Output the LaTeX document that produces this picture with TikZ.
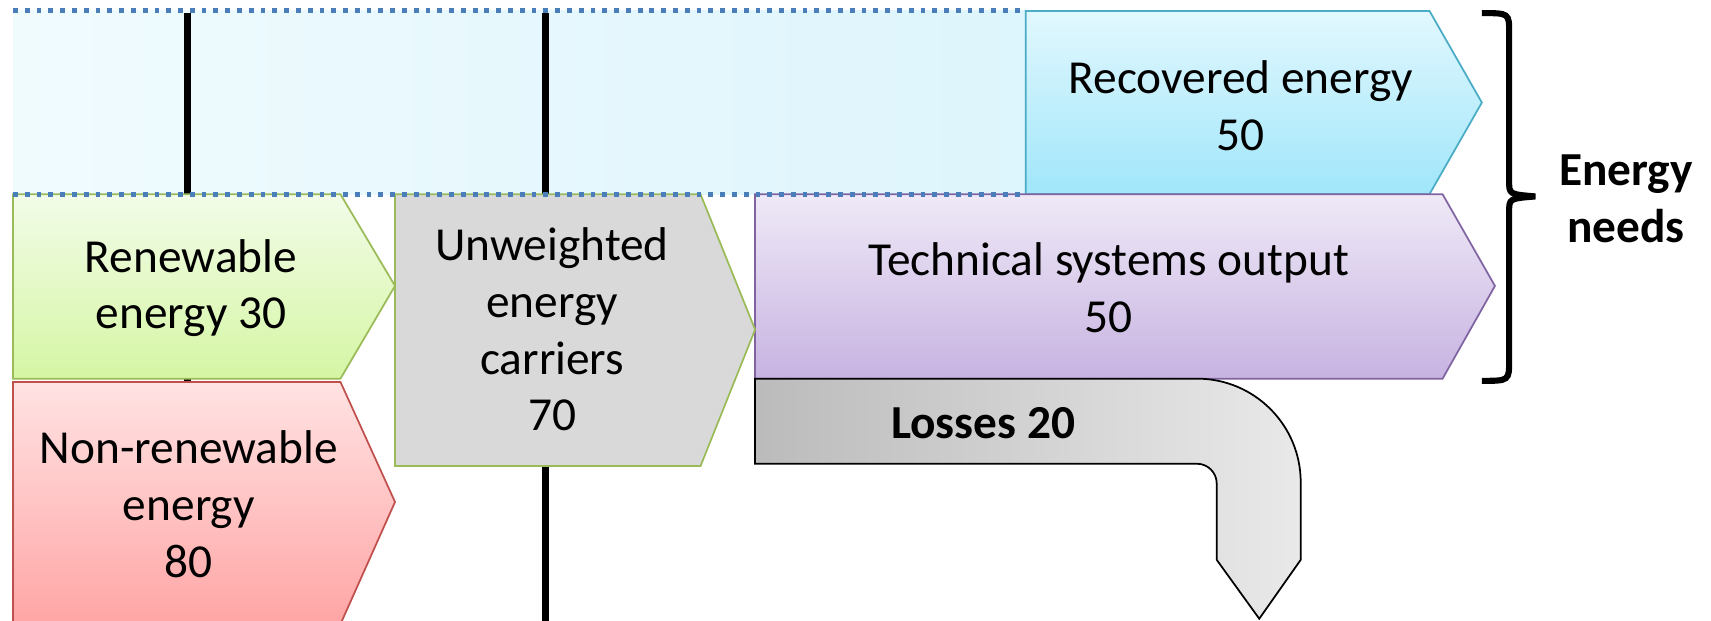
\documentclass[tikz,border=0pt]{standalone}
\usepackage{fontspec}
\setmainfont{Carlito}
\usepackage{tikz}
\usetikzlibrary{positioning,calc}

\definecolor{bgL}{HTML}{F0FBFE}
\definecolor{bgR}{HTML}{DDF5FC}
\definecolor{recT}{HTML}{E2F8FE}
\definecolor{recB}{HTML}{A0E6FA}
\definecolor{recD}{HTML}{4BACC6}
\definecolor{tecT}{HTML}{EFE9F7}
\definecolor{tecB}{HTML}{C7B3E1}
\definecolor{tecD}{HTML}{8064A2}
\definecolor{renT}{HTML}{F2FCE8}
\definecolor{renB}{HTML}{D5F6A4}
\definecolor{renD}{HTML}{9BBB59}
\definecolor{nonT}{HTML}{FFE3E3}
\definecolor{nonB}{HTML}{FFA5A5}
\definecolor{nonD}{HTML}{C0504D}
\definecolor{carF}{HTML}{D9D9D9}
\definecolor{losL}{HTML}{BBBBBB}
\definecolor{losR}{HTML}{E9E9E9}
\definecolor{dotblue}{HTML}{4A7EBB}

\begin{document}
\begin{tikzpicture}[
  x=0.5pt,y=-0.5pt,
  font=\fontsize{21.7}{26}\selectfont,
  lbl/.style={align=center,inner sep=0pt},
  box/.style={line width=0.8pt,line join=miter},
  bar/.style={line width=3pt,black},
  dots/.style={draw=dotblue,line width=2.3pt,dash pattern=on 2.2pt off 3.2pt},
  brace/.style={line width=2.8pt,black}
]
\useasboundingbox (0,0) rectangle (1568,569);

% background band and the two markers
\fill[left color=bgL,right color=bgR] (12,10) rectangle (940,178);
\draw[bar] (172,12) -- (172,575);
\draw[bar] (500,12) -- (500,575);

% energy boxes
\draw[box,draw=recD,top color=recT,bottom color=recB]
  (940,10) -- (1310,10) -- (1358,94) -- (1310,178) -- (940,178) -- cycle;
\draw[box,draw=tecD,top color=tecT,bottom color=tecB]
  (692,178) -- (1322,178) -- (1370,262) -- (1322,347) -- (692,347) -- cycle;
\draw[box,draw=renD,top color=renT,bottom color=renB]
  (12,178) -- (312,178) -- (362,262) -- (312,347) -- (12,347) -- cycle;
\draw[box,draw=nonD,top color=nonT,bottom color=nonB]
  (12,350) -- (312,350) -- (362,460) -- (312,572) -- (12,572) -- cycle;
\draw[box,draw=renD,fill=carF]
  (362,178) -- (642,178) -- (692,302) -- (642,427) -- (362,427) -- cycle;

% losses arrow
\draw[box,draw=black,left color=losL,right color=losR]
  (692,347) -- (1097,347) .. controls (1149.5,347) and (1192,389.5) .. (1192,442)
  -- (1192,513) -- (1154,567) -- (1115,513) -- (1115,443)
  .. controls (1115,433.1) and (1106.9,425) .. (1097,425) -- (692,425) -- cycle;

\node[lbl] (rec) at (1137,97) {Recovered energy\\50};
\node[lbl] (tec) at (1016,264) {Technical systems output\\50};
\node[lbl] (ren) at (175,264) {Renewable\\energy 30};
\node[lbl] (non) at (173,462) {Non-renewable\\energy\\80};
\node[lbl] (car) at (506,302) {Unweighted\\energy\\carriers\\70};
\node[lbl,font=\fontsize{21.7}{26}\selectfont\bfseries] (los) at (901,388) {Losses 20};

% bracket
\draw[brace] (1358,12) .. controls (1383,12) .. (1383,30) -- (1383,166)
  .. controls (1383,178) .. (1407,180) .. controls (1383,182) .. (1383,194)
  -- (1383,330) .. controls (1383,349) .. (1358,349);
\node[lbl,font=\fontsize{21.7}{26}\selectfont\bfseries] (needs) at (1490,182) {Energy\\needs};

% dotted edges on top
\draw[dots] (12,10) -- (940,10);
\draw[dots] (12,178) -- (940,178);
\end{tikzpicture}
\end{document}
